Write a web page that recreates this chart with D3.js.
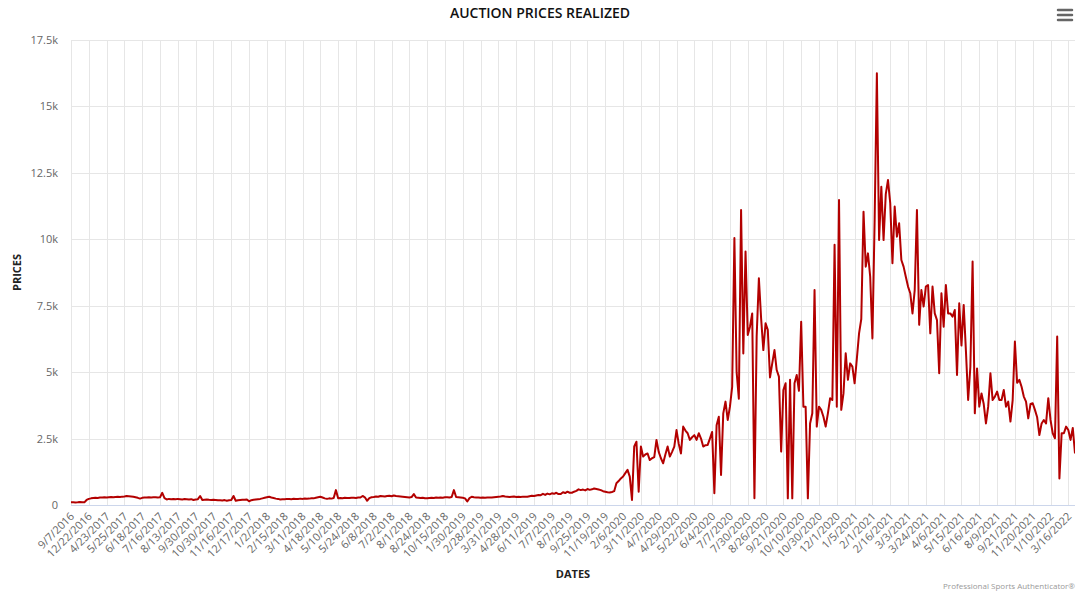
<!DOCTYPE html>
<html>
<head>
<meta charset="utf-8">
<script src="https://cdn.jsdelivr.net/npm/d3@7"></script>
<style>
  body { margin: 0; background: #fff; }
  svg text { font-family: "Open Sans", sans-serif; }
</style>
</head>
<body>
<div id="chart"></div>
<script>
// x labels shown every 8th sale
var tickLabels = ["9/7/2016","12/22/2016","4/23/2017","5/25/2017","6/18/2017","7/16/2017","8/13/2017",
  "9/30/2017","10/30/2017","11/16/2017","12/17/2017","1/2/2018","2/15/2018","3/11/2018","4/18/2018",
  "5/10/2018","5/24/2018","6/8/2018","7/2/2018","8/1/2018","8/24/2018","10/15/2018","1/30/2019",
  "2/28/2019","3/31/2019","4/28/2019","6/11/2019","7/7/2019","8/7/2019","9/25/2019","11/19/2019",
  "2/6/2020","3/11/2020","4/7/2020","4/29/2020","5/22/2020","6/4/2020","7/7/2020","7/30/2020",
  "8/26/2020","9/21/2020","10/10/2020","10/30/2020","12/1/2020","1/5/2021","2/1/2021","2/16/2021",
  "3/3/2021","3/24/2021","4/6/2021","5/15/2021","6/16/2021","8/9/2021","9/21/2021","11/20/2021",
  "1/10/2022","3/16/2022"];
var labelStep = 8;

var yTicks = [0, 2500, 5000, 7500, 10000, 12500, 15000, 17500];

// prices realized, in sale order
var prices = [
  100,105,98,102,110,104,100,190,230,250,
  260,270,265,280,285,290,280,295,300,290,
  305,310,300,315,320,340,330,320,310,290,
  270,240,270,285,280,290,285,290,295,285,
  290,460,260,210,230,220,225,215,230,220,
  210,225,215,205,220,190,210,220,340,190,
  200,210,195,185,200,190,175,180,170,185,
  160,175,190,340,160,180,190,200,195,210,
  140,180,200,210,220,230,250,270,290,310,
  280,260,240,230,210,220,215,230,225,220,
  235,225,230,240,230,245,235,240,250,250,
  270,290,310,280,250,230,250,240,260,560,
  250,260,255,270,265,260,275,270,265,280,
  280,340,290,160,260,290,300,320,310,340,
  330,320,340,350,330,360,340,330,320,310,
  300,290,280,300,410,280,270,260,275,255,
  250,260,270,265,280,270,285,275,290,290,
  280,300,560,300,290,280,270,250,130,260,
  310,290,280,285,270,280,275,285,280,280,
  290,300,310,320,340,320,310,300,310,320,
  305,310,300,315,310,310,330,350,340,360,
  380,370,420,380,430,400,440,420,460,410,
  410,480,450,500,460,460,500,530,590,560,
  580,550,600,570,590,620,600,580,560,520,
  500,480,470,490,520,820,900,1000,1070,1200,
  1320,1070,190,2200,2380,500,2200,1820,1900,1940,
  1690,1760,1800,2450,2000,1760,1570,1900,2200,1820,
  2000,2200,2820,2300,1940,2950,2800,2700,2450,2550,
  2630,2450,2700,2500,2200,2250,2260,2500,2750,440,
  3000,3320,1130,3450,3890,3200,3700,4450,10050,5000,
  4000,11100,5700,9540,6400,6710,7210,250,6340,8530,
  7030,5830,6840,6590,4800,5330,5830,5080,4830,2010,
  4330,4580,250,4710,250,4580,4890,4300,6900,3700,
  3700,250,3070,3450,8090,2950,3700,3580,3320,2950,
  3450,4020,3950,9790,3700,11480,3580,4200,5710,4710,
  5330,5210,4580,5500,6460,7000,11040,8970,9470,8590,
  6270,10730,16250,9970,11980,9970,11700,12230,11360,9100,
  11230,10100,10600,9220,8970,8590,8220,7970,7210,8090,
  11100,6780,8090,7470,8220,8280,6460,8220,7210,6960,
  4960,7970,6710,8280,7210,7210,7090,7340,4890,7590,
  6000,7530,5800,3950,5200,9160,3450,5140,3700,4200,
  3800,3070,3700,4960,3950,4080,4270,3950,3950,4330,
  3700,3890,3140,3950,6150,4600,4710,4450,4080,3890,
  3260,3800,3830,3580,3300,2630,3070,3200,3070,4020,
  3200,2700,2510,6340,1000,2700,2700,2950,2820,2450,
  2900,1940
];

var W = 1080, H = 591;
var margin = {top: 40, right: 5, bottom: 86, left: 71},
    width = W - margin.left - margin.right,
    height = H - margin.top - margin.bottom;

var svg = d3.select("#chart").append("svg")
    .attr("width", W)
    .attr("height", H);

var g = svg.append("g")
    .attr("transform", "translate(" + margin.left + "," + margin.top + ")");

var x = d3.scaleLinear().domain([0, prices.length - 1]).range([0, width]);
var y = d3.scaleLinear().domain([0, 17500]).range([height, 0]);

// horizontal grid
g.append("g")
  .selectAll("line")
  .data(yTicks.slice(1))
  .enter().append("line")
    .attr("x1", 0).attr("x2", width)
    .attr("y1", function(d){ return Math.round(y(d)) + 0.5; })
    .attr("y2", function(d){ return Math.round(y(d)) + 0.5; })
    .attr("stroke", "#e6e6e6");

// vertical grid, one per label
var tickIdx = tickLabels.map(function(d, i){ return i * labelStep; });
g.append("g")
  .selectAll("line")
  .data(tickIdx)
  .enter().append("line")
    .attr("x1", function(d){ return Math.round(x(d)) + 0.5; })
    .attr("x2", function(d){ return Math.round(x(d)) + 0.5; })
    .attr("y1", 0).attr("y2", height)
    .attr("stroke", "#e6e6e6");

// y axis labels
var yAxis = d3.axisLeft(y)
    .tickValues(yTicks)
    .tickSize(0)
    .tickPadding(13)
    .tickFormat(function(d){ return d === 0 ? "0" : d3.format("~")(d / 1000) + "k"; });
var yg = g.append("g").call(yAxis);
yg.select(".domain").remove();
yg.selectAll("text")
    .style("font-size", "11px")
    .attr("fill", "#666");

// x axis line
g.append("line")
    .attr("x1", 0).attr("x2", width)
    .attr("y1", height + 0.5).attr("y2", height + 0.5)
    .attr("stroke", "#ccd6eb");

// x labels, rotated
g.append("g")
  .selectAll("text")
  .data(tickLabels)
  .enter().append("text")
    .attr("transform", function(d, i){
      return "translate(" + (x(i * labelStep) + 4) + "," + (height + 12) + ") rotate(-45)";
    })
    .attr("text-anchor", "end")
    .style("font-size", "11px")
    .attr("fill", "#666")
    .text(function(d){ return d; });

// price line
g.append("clipPath").attr("id", "clip")
  .append("rect").attr("width", width).attr("height", height + 1);

var line = d3.line()
    .x(function(d, i){ return x(i); })
    .y(function(d){ return y(d); });

g.append("path")
    .datum(prices)
    .attr("clip-path", "url(#clip)")
    .attr("fill", "none")
    .attr("stroke", "#b30000")
    .attr("stroke-width", 2)
    .attr("stroke-linejoin", "round")
    .attr("d", line);

// titles
svg.append("text")
    .attr("x", W / 2)
    .attr("y", 18)
    .attr("text-anchor", "middle")
    .style("font-size", "14px")
    .style("font-weight", "600")
    .attr("fill", "#111")
    .text("AUCTION PRICES REALIZED");

svg.append("text")
    .attr("transform", "translate(21," + (margin.top + height / 2) + ") rotate(-90)")
    .attr("text-anchor", "middle")
    .style("font-size", "11px")
    .style("font-weight", "bold")
    .attr("fill", "#222")
    .text("PRICES");

svg.append("text")
    .attr("x", margin.left + width / 2)
    .attr("y", 578)
    .attr("text-anchor", "middle")
    .style("font-size", "11px")
    .style("font-weight", "bold")
    .attr("fill", "#222")
    .text("DATES");

svg.append("text")
    .attr("x", 1075)
    .attr("y", 589)
    .attr("text-anchor", "end")
    .style("font-size", "8px")
    .attr("fill", "#999")
    .text("Professional Sports Authenticator\u00AE");

// menu button
svg.append("g")
  .selectAll("line")
  .data([10, 15, 20])
  .enter().append("line")
    .attr("x1", 1058).attr("x2", 1072)
    .attr("y1", function(d){ return d; })
    .attr("y2", function(d){ return d; })
    .attr("stroke", "#666")
    .attr("stroke-width", 2.5)
    .attr("stroke-linecap", "round");
</script>
</body>
</html>
